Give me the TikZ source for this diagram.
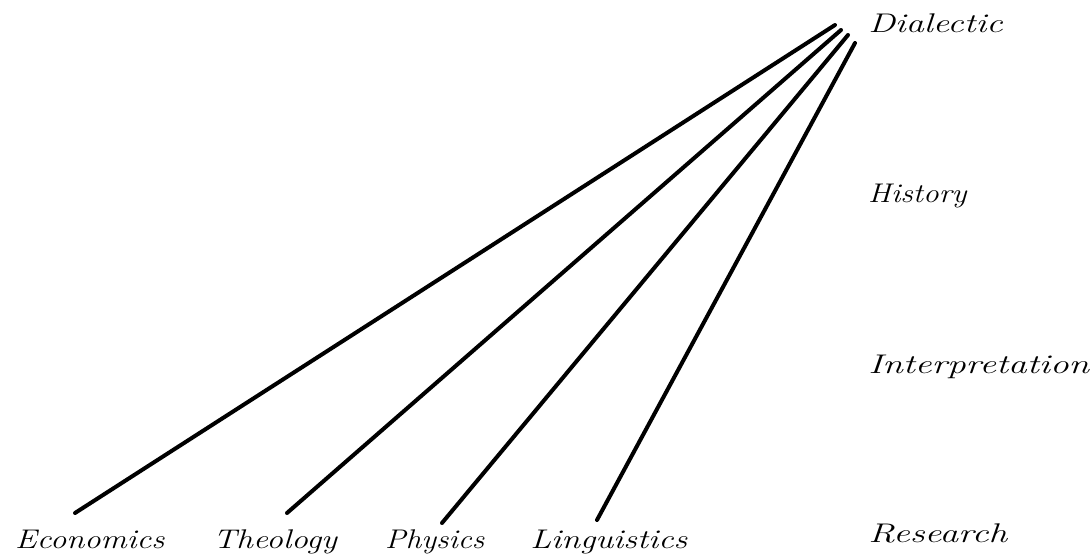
\documentclass[tikz,border=0pt]{standalone}
\usepackage{fontspec}
\begin{document}
\begin{tikzpicture}[x=1pt,y=-1pt,
  lbl/.style={font=\fontsize{27}{31}\selectfont\itshape, anchor=base west, inner sep=0pt, xscale=#1, transform shape},
  lbl/.default=1.25,
  stroke/.style={line width=4pt, line cap=round, black}]
\useasboundingbox (0,0) rectangle (1092,558);
\fill[white] (0,0) rectangle (1092,558);
% free ends of the strokes
\coordinate (e1) at (835,25);
\coordinate (e2) at (841,30);
\coordinate (e3) at (848,35);
\coordinate (e4) at (855,43);
\coordinate (b1) at (75,513);
\coordinate (b2) at (287,513);
\coordinate (b3) at (442,523);
\coordinate (b4) at (597,520);
% labels
\node[lbl=1.34] (dia) at (868,32) {Dialectic};
\node[lbl=1.16] (his) at (868,202) {History};
\node[lbl=1.38] (int) at (868,373) {Interpretation};
\node[lbl=1.38] (res) at (868,542) {Research};
\node[lbl=1.21] (eco) at (15,548) {Economics};
\node[lbl=1.23] (the) at (213,548) {Theology};
\node[lbl=1.15] (phy) at (385,548) {Physics};
\node[lbl=1.26] (lin) at (530,548) {Linguistics};
% strokes
\draw[stroke] (b1) -- (e1);
\draw[stroke] (b2) -- (e2);
\draw[stroke] (b3) -- (e3);
\draw[stroke] (b4) -- (e4);
\end{tikzpicture}
\end{document}
